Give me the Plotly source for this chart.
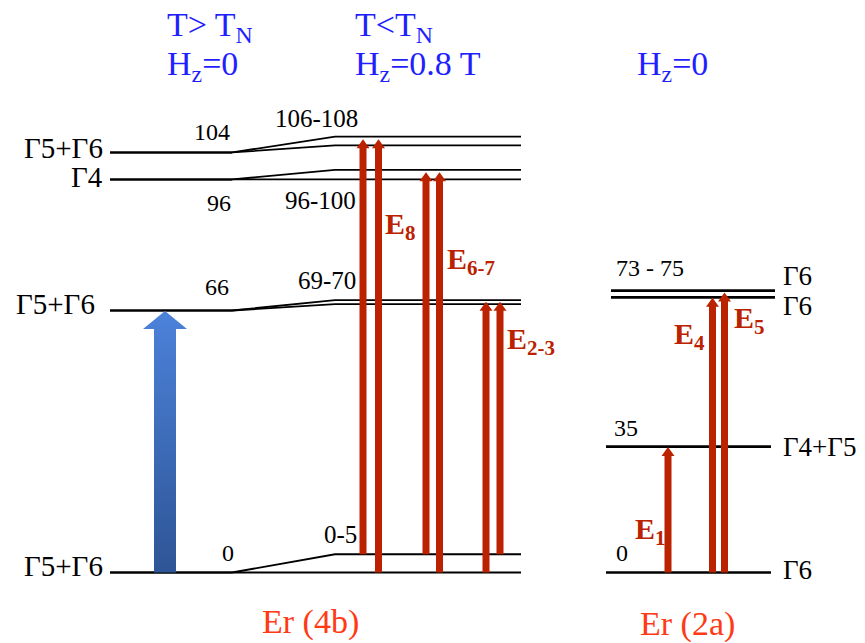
import plotly.graph_objects as go

# ---------------- data ----------------
# Er (4b), T > T_N, Hz = 0 : crystal-field levels (drawn heights, diagram units) and labels
para_levels = [0.0, 66.0, 99.0, 105.8]
para_values = ["0", "66", "96", "104"]
para_irreps = ["Γ5+Γ6", "Γ5+Γ6", "Γ4", "Γ5+Γ6"]

# Er (4b), T < T_N, Hz = 0.8 T : split doublets
split_lower = [0.0, 67.6, 99.0, 107.6]
split_upper = [4.6, 68.6, 101.4, 109.8]
split_values = ["0-5", "69-70", "96-100", "106-108"]

# Er (2a), Hz = 0
er2a_levels = [0.0, 31.7, 69.3, 71.0]
er2a_values = ["0", "35", "73 - 75"]
er2a_irreps = ["Γ6", "Γ4+Γ5", "Γ6", "Γ6"]

# transitions (column position, start level, end level)
tr4b_pos = [363, 378.5, 426, 439.5, 486, 500]
tr4b_from = [4.6, 0.0, 4.6, 0.0, 0.0, 4.6]
tr4b_to = [109.1, 109.1, 100.8, 100.8, 68.2, 68.2]
tr4b_names = ["E<sub>8</sub>", "E<sub>6-7</sub>", "E<sub>2-3</sub>"]

tr2a_pos = [668, 712.5, 724.5]
tr2a_from = [0.0, 0.0, 0.0]
tr2a_to = [31.6, 69.2, 70.5]
tr2a_names = ["E<sub>1</sub>", "E<sub>4</sub>", "E<sub>5</sub>"]

pump_pos = [165]
pump_from = [0.0]
pump_to = [65.9]

headers = ["T> T<sub>N</sub>", "H<sub>z</sub>=0", "T<T<sub>N</sub>", "H<sub>z</sub>=0.8 T", "H<sub>z</sub>=0"]
sites = ["Er (4b)", "Er (2a)"]

# ---------------- styling / geometry ----------------
PAGE_W, PAGE_H = 865, 643
OFF = 8            # page body margin in the browser
W, H = PAGE_W - OFF, PAGE_H - OFF
PX = 3.97          # pixels per diagram unit (vertical)
Y0 = 572.5         # page pixel row of zero level


def Y(py):
    return (Y0 - py) / PX


SERIF = "'Liberation Serif', 'Times New Roman', Times, 'DejaVu Serif', serif"
RED = "#BB2200"
BLUE_TXT = "#1F1FFF"
ORANGE = "#FF3A14"

fig = go.Figure()


def add_lines(xs, ys, width):
    fig.add_trace(go.Scatter(x=xs, y=ys, mode="lines",
                             line=dict(color="black", width=width),
                             hoverinfo="skip", showlegend=False))


# left column: paramagnetic levels
xs, ys = [], []
for e in para_levels:
    xs += [110, 232, None]
    ys += [e, e, None]
add_lines(xs, ys, 2.6)

# connection + split levels
xs, ys = [], []
for e, lo, up in zip(para_levels, split_lower, split_upper):
    xs += [232, 335, 521, None, 232, 335, 521, None]
    ys += [e, lo, lo, None, e, up, up, None]
add_lines(xs, ys, 1.8)

# right column
xs, ys = [], []
for i, e in enumerate(er2a_levels):
    if i < 2:
        xs += [606, 771, None]
    else:
        xs += [611, 775, None]
    ys += [e, e, None]
add_lines(xs, ys, 2.6)


def arrow_poly(xc, y0, y1, shaft, head, head_len_px):
    hl = head_len_px / PX
    s, h = shaft / 2, head / 2
    px = [xc - s, xc - s, xc - h, xc, xc + h, xc + s, xc + s, xc - s]
    py = [y0, y1 - hl, y1 - hl, y1, y1 - hl, y1 - hl, y0, y0]
    return px, py


for xc, a, b in zip(tr4b_pos + tr2a_pos, tr4b_from + tr2a_from, tr4b_to + tr2a_to):
    px_, py_ = arrow_poly(xc, a, b, 7, 13, 9)
    fig.add_trace(go.Scatter(x=px_, y=py_, mode="lines", fill="toself",
                             fillcolor=RED, line=dict(width=0, color=RED),
                             hoverinfo="skip", showlegend=False))

for xc, a, b in zip(pump_pos, pump_from, pump_to):
    px_, py_ = arrow_poly(xc, a, b, 22, 44, 18)
    fig.add_trace(go.Scatter(x=px_, y=py_, mode="lines", fill="toself",
                             fillgradient=dict(type="vertical",
                                               colorscale=[[0, "#2E5596"], [1, "#4C82DA"]]),
                             line=dict(width=0, color="#3A6BC0"),
                             hoverinfo="skip", showlegend=False))

ann = []


def txt(x, py, text, size, color="black", xanchor="center", bold=False):
    ann.append(dict(x=x, y=Y(py), xref="x", yref="y",
                    text=("<b>%s</b>" % text) if bold else text,
                    showarrow=False, xanchor=xanchor, yanchor="middle",
                    font=dict(family=SERIF, size=size, color=color)))


# irreps left
left_irrep_rows = [566, 304, 177, 148]
left_irrep_right = [105, 97, 105, 105]
for name, py, xr in zip(para_irreps, left_irrep_rows, left_irrep_right):
    txt(xr, py, name, 29, xanchor="right")

# values left
para_val_pos = [(227.5, 553), (217, 287), (219, 202.5), (212, 132)]
for v, (x, py) in zip(para_values, para_val_pos):
    txt(x, py, v, 24)
split_val_pos = [(340, 534.5), (327, 280.5), (320, 200), (316, 118.5)]
for v, (x, py) in zip(split_values, split_val_pos):
    txt(x, py, v, 25)

# right column labels
er2a_val_pos = [(621.5, 552.5), (625.5, 428), (650, 268)]
for v, (x, py) in zip(er2a_values, er2a_val_pos):
    txt(x, py, v, 24)
er2a_irrep_rows = [570, 446.5, 306, 276]
for name, py in zip(er2a_irreps, er2a_irrep_rows):
    txt(781, py, name, 27, xanchor="left")

# transition names
tr4b_name_pos = [(383, 226), (445, 261), (505, 341)]
for n, (x, py) in zip(tr4b_names, tr4b_name_pos):
    txt(x, py, n, 30, RED, xanchor="left", bold=True)
tr2a_name_pos = [(633, 531), (672, 336), (732, 320)]
for n, (x, py) in zip(tr2a_names, tr2a_name_pos):
    txt(x, py, n, 30, RED, xanchor="left", bold=True)

# headers
header_pos = [(165, 27), (165, 66), (353, 27), (353, 66), (635, 66)]
for t, (x, py) in zip(headers, header_pos):
    txt(x, py, t, 34, BLUE_TXT, xanchor="left")

# site names
site_pos = [(310, 622), (687, 624)]
for t, (x, py) in zip(sites, site_pos):
    txt(x, py, t, 34, ORANGE)

fig.update_layout(
    width=W, height=H,
    margin=dict(l=0, r=0, t=0, b=0),
    paper_bgcolor="white", plot_bgcolor="white",
    font=dict(family=SERIF),
    xaxis=dict(range=[OFF, PAGE_W], visible=False, fixedrange=True),
    yaxis=dict(range=[Y(PAGE_H), Y(OFF)], visible=False, fixedrange=True),
    annotations=ann,
    showlegend=False,
)

fig.write_html("out.html")
